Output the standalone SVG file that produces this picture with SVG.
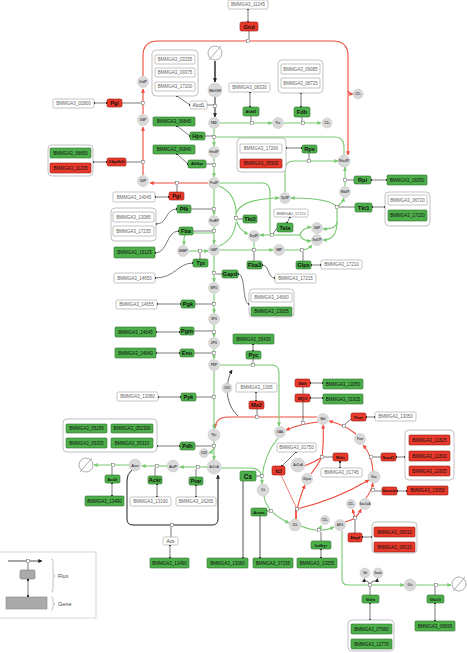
<svg xmlns="http://www.w3.org/2000/svg" width="467" height="653" viewBox="0 0 467 653">
<style>
.gb{fill:#fff;stroke:#9a9a9a;stroke-width:.6}
.gG{fill:#4daf4a;stroke:#2d6e2b;stroke-width:.6}
.gR{fill:#e8392a;stroke:#8e1d12;stroke-width:.6}
.grp{fill:#fff;stroke:#a8a8a8;stroke-width:.7}
text{font-family:"Liberation Sans",Arial,sans-serif}
.gt{font-size:4.5px;fill:#111;text-anchor:middle}
.gtw{font-size:4.5px;fill:#666;text-anchor:middle}
.rt{font-size:5.6px;font-weight:bold;fill:#111;text-anchor:middle}
.rs{font-size:4px;font-weight:bold;fill:#111;text-anchor:middle}
.rtw{font-size:4.8px;fill:#444;text-anchor:middle}
.met{fill:#d9d9d9;stroke:#c4c4c4;stroke-width:.5}
.mt{font-size:2.9px;font-weight:bold;fill:#444;text-anchor:middle}
.mtb{font-size:4px;font-weight:bold;fill:#444;text-anchor:middle}
.fg{fill:none;stroke:#77c96f;stroke-width:1.1}
.fr{fill:none;stroke:#ee4a3a;stroke-width:1.1}
.fk{fill:none;stroke:#222;stroke-width:1}
.cn{fill:none;stroke:#222;stroke-width:.6}
.cg{fill:none;stroke:#555;stroke-width:1}
.mk{fill:#fff;stroke:#555;stroke-width:.45}
.sink{fill:#fff;stroke:#777;stroke-width:.6}
.lg{font-size:5.5px;fill:#444}
</style>
<defs>
<marker id="aG" viewBox="0 0 6 6" refX="5.5" refY="3" markerWidth="4" markerHeight="4" markerUnits="userSpaceOnUse" orient="auto"><path d="M0,0 L6,3 L0,6 z" fill="#77c96f"/></marker>
<marker id="aR" viewBox="0 0 6 6" refX="5.5" refY="3" markerWidth="4" markerHeight="4" markerUnits="userSpaceOnUse" orient="auto"><path d="M0,0 L6,3 L0,6 z" fill="#ee4a3a"/></marker>
<marker id="aK" viewBox="0 0 6 6" refX="5.5" refY="3" markerWidth="4" markerHeight="4" markerUnits="userSpaceOnUse" orient="auto"><path d="M0,0 L6,3 L0,6 z" fill="#222"/></marker>
<marker id="d" viewBox="0 0 4 4" refX="2" refY="2" markerWidth="2.2" markerHeight="2.2" markerUnits="userSpaceOnUse"><circle cx="2" cy="2" r="2" fill="#111"/></marker>
<rect id="m" x="-1.6" y="-1.6" width="3.2" height="3.2" class="mk"/>
</defs>
<rect width="467" height="653" fill="#fff"/>

<g id="connectors">
<!-- red fluxes -->
<path class="fr" d="M143,175 V127" marker-end="url(#aR)"/>
<path class="fr" d="M143,114 V89" marker-end="url(#aR)"/>
<path class="fr" d="M143,76 V56 Q143,41 158,41 H333 Q348,41 348,56 V155" marker-end="url(#aR)"/>
<path class="fr" d="M348,91 Q350,94 353,94" marker-end="url(#aR)"/>
<path class="fr" d="M208,183 H150" marker-end="url(#aR)"/>
<path class="fr" d="M317,417 H228 Q216,417 215,428" marker-end="url(#aR)"/>
<path class="fr" d="M318,422 Q300,424 286,430" marker-end="url(#aR)"/>
<path class="fr" d="M356,434 Q345,425 329,421" marker-end="url(#aR)"/>
<path class="fr" d="M373,471 Q372,455 363,445" marker-end="url(#aR)"/>
<path class="fr" d="M366,498 Q371,492 373,483" marker-end="url(#aR)"/>
<path class="fr" d="M345,522 Q352,520 355,518 Q359,514 361,509" marker-end="url(#aR)"/>
<path class="fr" d="M355,518 L352.5,509.5" marker-end="url(#aR)"/>
<path class="fr" d="M296,519 V509" style="stroke-width:1.8"/>
<path class="fr" d="M297,509 Q301,494 305,485" marker-end="url(#aR)"/>
<path class="fr" d="M297,509 Q335,500 369,480" marker-end="url(#aR)"/>
<path class="fr" d="M281,475 L297,509" style="stroke-width:.7"/>
<path class="fr" d="M304,466 Q315,462 322,457"/>
<path class="fr" d="M311,474 Q318,465 322,457"/>
<path class="fr" d="M322,457 Q324,440 323,425" marker-end="url(#aR)"/>
<!-- green fluxes -->
<path class="fg" d="M220,123 H272" marker-end="url(#aG)"/>
<path class="fg" d="M284,123 H321" marker-end="url(#aG)"/>
<path class="fg" d="M214,129 V146" marker-end="url(#aG)"/>
<path class="fg" d="M344,155 V147 Q344,137 334,137 H216"/>
<path class="fg" d="M214,158 V177" marker-end="url(#aG)"/>
<path class="fg" d="M214,189 V215" marker-end="url(#aG)"/>
<path class="fg" d="M214,227 V244" marker-end="url(#aG)"/>
<path class="fg" d="M213,233 H190 Q184,233 184,239 V245" marker-end="url(#aG)"/>
<path class="fg" d="M189,251 H208" marker-end="url(#aG)"/>
<path class="fg" d="M219,186 Q234,192 236,210 V218 Q238,230 248,234" marker-end="url(#aG)"/>
<path class="fg" d="M219,246 Q234,240 236,222"/>
<path class="fg" d="M236,214 Q240,199 279,198" marker-end="url(#aG)"/>
<path class="fg" d="M220,183 H262 Q270,183 270,192 V233"/>
<path class="fg" d="M272,235 H260" marker-end="url(#aG)"/>
<path class="fg" d="M272,235 H300"/>
<path class="fg" d="M300,235 Q302,228 311,227" marker-end="url(#aG)"/>
<path class="fg" d="M300,235 Q302,241 311,241" marker-end="url(#aG)"/>
<path class="fg" d="M338,206 Q343,202 344,198" marker-end="url(#aG)"/>
<path class="fg" d="M337,207 Q330,198 291,198" marker-end="url(#aG)"/>
<path class="fg" d="M337,209 V222 Q337,229 323,229" marker-end="url(#aG)"/>
<path class="fg" d="M337,222 Q337,240 323,240" marker-end="url(#aG)"/>
<path class="fg" d="M345,186 V167" marker-end="url(#aG)"/>
<path class="fg" d="M285,192 V170 Q285,161 294,161 H338" marker-end="url(#aG)"/>
<path class="fg" d="M220,250 H273" marker-end="url(#aG)"/>
<path class="fg" d="M254,242 V250"/>
<path class="fg" d="M285,250 H301 Q308,250 312,245" marker-end="url(#aG)"/>
<path class="fg" d="M214,256 V282" marker-end="url(#aG)"/>
<path class="fg" d="M214,294 V313" marker-end="url(#aG)"/>
<path class="fg" d="M214,325 V337" marker-end="url(#aG)"/>
<path class="fg" d="M214,349 V359" marker-end="url(#aG)"/>
<path class="fg" d="M214,371 V429" marker-end="url(#aG)"/>
<path class="fg" d="M220,365 H272 Q279,365 279,374 V426" marker-end="url(#aG)"/>
<path class="fg" d="M214,441 V460" marker-end="url(#aG)"/>
<path class="fg" d="M214,448 Q212,452 209,453" marker-end="url(#aG)"/>
<path class="fg" d="M207,467 H180" marker-end="url(#aG)"/>
<path class="fg" d="M167,466 H142" marker-end="url(#aG)"/>
<path class="fg" d="M129,465 H94" marker-end="url(#aG)"/>
<path class="fg" d="M221,468 H250 Q261,468 262,478 V484" marker-end="url(#aG)"/>
<path class="fg" d="M278,438 Q264,455 262,478"/>
<path class="fg" d="M264,496 Q266,512 289,523" marker-end="url(#aG)"/>
<path class="fg" d="M301,526 Q320,534 334,527" marker-end="url(#aG)"/>
<path class="fg" d="M319,530 L321.5,525.5" marker-end="url(#aG)"/>
<path class="fg" d="M342,531 V579 Q342,585 348,585 H404" marker-end="url(#aG)"/>
<path class="fg" d="M416,585 H451" marker-end="url(#aG)"/>
<!-- black fluxes -->
<path class="fk" d="M215,61 V82" style="stroke-width:1.4" marker-end="url(#aK)"/>
<path class="fk" d="M215,97 V117" marker-end="url(#aK)"/>
<path class="fk" d="M132,470 Q127,474 127,480 V519 Q127,525 133,525 H212 Q218,525 218,519 V475" marker-end="url(#aK)"/>
<path class="fk" d="M238,416 C226,405 224,385 232,370" style="stroke-width:.7" marker-end="url(#aK)"/>
<path class="fk" d="M370,584 C368,580 364,582 364.5,578.5" style="stroke-width:.7" marker-end="url(#aK)"/>
<path class="fk" d="M370,584 C372,580 377,582 377.5,578.5" style="stroke-width:.7" marker-end="url(#aK)"/>
<!-- gene/reaction connectors -->
<g class="cn" marker-start="url(#d)" marker-end="url(#d)">
<path d="M248,9 V22"/>
<path d="M94,103 H107"/>
<path d="M93,162 H107"/>
<path d="M155,197 H169"/>
<path d="M177,96 L190,105"/>
<path d="M250,92 V107"/>
<path d="M301,93 V107"/>
<path d="M177,126 L190,136"/>
<path d="M177,154 L188,164"/>
<path d="M286,148 H302"/>
<path d="M371,180 H387"/>
<path d="M372,207 H385"/>
<path d="M156,224 C168,224 165,209 177,209"/>
<path d="M155,253 C168,253 166,231 179,231"/>
<path d="M155,278 C175,278 178,263 193,263"/>
<path d="M290,217 L287,223"/>
<path d="M262,265 C270,265 267,278 275,278"/>
<path d="M311,265 H321"/>
<path d="M238,274 C246,274 242,304 249,304"/>
<path d="M157,304 H181"/>
<path d="M156,332 H180"/>
<path d="M156,353 H180"/>
<path d="M253,344 V351"/>
<path d="M158,397 H181"/>
<path d="M256,392 V401"/>
<path d="M157,446 H180"/>
<path d="M310,383 H323"/>
<path d="M310,398 H323"/>
<path d="M366,417 H375"/>
<path d="M396,457 H405"/>
<path d="M397,491 H407"/>
<path d="M362,537 H372"/>
<path d="M340,462 V468"/>
<path d="M296,452 L282,466"/>
<path d="M321,549 V558"/>
<path d="M370,603 V620"/>
<path d="M435,603 V621"/>
<path d="M196,485 V497"/>
<path d="M157,484 V497"/>
<path d="M112,483 V496"/>
<path d="M170,545 V558"/>
</g>
<g class="cn">
<path d="M249,31 V39"/>
<path d="M122,103 H141"/>
<path d="M126,162 H141"/>
<path d="M177,192 V185"/>
<path d="M207,105 H213"/>
<path d="M251,116 V121"/>
<path d="M302,117 V121"/>
<path d="M205,136 H212"/>
<path d="M206,164 H212"/>
<path d="M309,153 V159"/>
<path d="M354,180 H347"/>
<path d="M355,207 H339"/>
<path d="M191,209 H212"/>
<path d="M193,231 H212"/>
<path d="M200,259 V253"/>
<path d="M277,228 L273,234"/>
<path d="M243,219 H238"/>
<path d="M254,261 V252"/>
<path d="M303,261 V252"/>
<path d="M222,274 H216"/>
<path d="M195,304 H212"/>
<path d="M194,331 H212"/>
<path d="M194,353 H212"/>
<path d="M253,359 V363"/>
<path d="M196,397 H212"/>
<path d="M257,409 V415"/>
<path d="M195,446 H212"/>
<path d="M303,387 V394 M303,402 V421"/>
<path d="M351,419 L345,424"/>
<path d="M381,457 H373"/>
<path d="M382,491 H374"/>
<path d="M355,533 V520"/>
<path d="M333,457 H324"/>
<path d="M321,541 V532"/>
<path d="M267,511 H270"/>
<path d="M255,476 H260"/>
<path d="M370,595 V587"/>
<path d="M435,595 V587"/>
<path d="M196,477 V469"/>
<path d="M155,476 V468"/>
<path d="M112,475 V467"/>
<path d="M171,537 V527"/>
</g>
<path class="cg" d="M243,481 V558" marker-end="url(#d)"/>
<path class="cg" d="M260,516 V558" marker-end="url(#d)"/>
<!-- flux markers -->
<use href="#m" x="248" y="41"/><use href="#m" x="143" y="103"/><use href="#m" x="143" y="162"/><use href="#m" x="177" y="183"/>
<use href="#m" x="215" y="106"/><use href="#m" x="252" y="123"/><use href="#m" x="303" y="123"/><use href="#m" x="214" y="137"/>
<use href="#m" x="214" y="165"/><use href="#m" x="309" y="161"/><use href="#m" x="345" y="180"/><use href="#m" x="337" y="207"/>
<use href="#m" x="214" y="209"/><use href="#m" x="214" y="231"/><use href="#m" x="200" y="251"/><use href="#m" x="236" y="218"/>
<use href="#m" x="272" y="235"/><use href="#m" x="254" y="250"/><use href="#m" x="302" y="250"/><use href="#m" x="214" y="273"/>
<use href="#m" x="214" y="304"/><use href="#m" x="214" y="332"/><use href="#m" x="214" y="353"/><use href="#m" x="253" y="365"/>
<use href="#m" x="214" y="397"/><use href="#m" x="257" y="417"/><use href="#m" x="214" y="446"/><use href="#m" x="198" y="467"/>
<use href="#m" x="157" y="466"/><use href="#m" x="113" y="465"/><use href="#m" x="172" y="525"/><use href="#m" x="262" y="476"/>
<use href="#m" x="271" y="511"/><use href="#m" x="319" y="530"/><use href="#m" x="303" y="423"/><use href="#m" x="344" y="426"/>
<use href="#m" x="371" y="457"/><use href="#m" x="373" y="490"/><use href="#m" x="355" y="518"/><use href="#m" x="297" y="509"/>
<use href="#m" x="322" y="457"/><use href="#m" x="370" y="585"/><use href="#m" x="436" y="585"/>
</g>

<g id="metabolites">
<g id="m-gn6p"><circle class="met" cx="143" cy="82" r="5.5"/><text class="mt" x="143" y="83">Gn6P</text></g>
<g id="m-gl6p"><circle class="met" cx="143" cy="120" r="5.5"/><text class="mt" x="143" y="121">Gl6P</text></g>
<g id="m-g6p"><circle class="met" cx="143" cy="181" r="5.5"/><text class="mt" x="143" y="182">G6P</text></g>
<g id="m-f6p"><circle class="met" cx="214" cy="183" r="5.5"/><text class="mt" x="214" y="184">Fru6P</text></g>
<g id="m-hex6p"><circle class="met" cx="214" cy="152" r="5.5"/><text class="mt" x="214" y="153">Hex6P</text></g>
<g id="m-fad"><circle class="met" cx="214" cy="123" r="5.5"/><text class="mt" x="214" y="124">FAD</text></g>
<g id="m-meoh"><circle class="met" cx="215" cy="90" r="7"/><text class="mtb" x="215" y="91.5">MeOH</text></g>
<g id="m-for"><circle class="met" cx="278" cy="123" r="5.5"/><text class="mt" x="278" y="124">For</text></g>
<g id="m-co2a"><circle class="met" cx="327" cy="123" r="5"/><text class="mt" x="327" y="124">CO₂</text></g>
<g id="m-co2b"><circle class="met" cx="358" cy="94" r="5"/><text class="mt" x="358" y="95">CO₂</text></g>
<g id="m-ru5p"><circle class="met" cx="344" cy="161" r="6"/><text class="mt" x="344" y="162">Ribu5P</text></g>
<g id="m-rib5p"><circle class="met" cx="345" cy="192" r="5.5"/><text class="mt" x="345" y="193">Rib5P</text></g>
<g id="m-xyl5p"><circle class="met" cx="285" cy="198" r="5.5"/><text class="mt" x="285" y="199">Xyl5P</text></g>
<g id="m-fbp"><circle class="met" cx="214" cy="221" r="5.5"/><text class="mt" x="214" y="222">FruBP</text></g>
<g id="m-dhap"><circle class="met" cx="183" cy="251" r="5.5"/><text class="mt" x="183" y="252">DHAP</text></g>
<g id="m-gap"><circle class="met" cx="214" cy="250" r="5.5"/><text class="mt" x="214" y="251">GAP</text></g>
<g id="m-e4p"><circle class="met" cx="254" cy="236" r="5.5"/><text class="mt" x="254" y="237">Ery4P</text></g>
<g id="m-sbp"><circle class="met" cx="279" cy="250" r="5.5"/><text class="mt" x="279" y="251">SBP</text></g>
<g id="m-gap2"><circle class="met" cx="317" cy="228" r="5.5"/><text class="mt" x="317" y="229">GAP</text></g>
<g id="m-s7p"><circle class="met" cx="317" cy="240" r="5.5"/><text class="mt" x="317" y="241">Sed7P</text></g>
<g id="m-bpg"><circle class="met" cx="214" cy="288" r="5.5"/><text class="mt" x="214" y="289">BPG</text></g>
<g id="m-3pg"><circle class="met" cx="214" cy="319" r="5.5"/><text class="mt" x="214" y="320">3PG</text></g>
<g id="m-2pg"><circle class="met" cx="214" cy="343" r="5.5"/><text class="mt" x="214" y="344">2PG</text></g>
<g id="m-pep"><circle class="met" cx="214" cy="365" r="5.5"/><text class="mt" x="214" y="366">PEP</text></g>
<g id="m-co2c"><circle class="met" cx="227" cy="388" r="5"/><text class="mt" x="227" y="389">CO2</text></g>
<g id="m-pyr"><circle class="met" cx="214" cy="435" r="6"/><text class="mt" x="214" y="436">Pyr</text></g>
<g id="m-co2d"><circle class="met" cx="204" cy="453" r="4.5"/><text class="mt" x="204" y="454">CO2</text></g>
<g id="m-accoa"><circle class="met" cx="214" cy="467" r="7"/><text class="mt" x="214" y="468">AcCoA</text></g>
<g id="m-acp"><circle class="met" cx="173" cy="466" r="6"/><text class="mtb" x="173" y="467.5">AcP</text></g>
<g id="m-ace"><circle class="met" cx="135" cy="465" r="6"/><text class="mtb" x="135" y="466.5">Ace</text></g>
<g id="m-oaa"><circle class="met" cx="280" cy="432" r="5.5"/><text class="mt" x="280" y="433">OAA</text></g>
<g id="m-mal"><circle class="met" cx="323" cy="419" r="5.5"/><text class="mt" x="323" y="420">Mal</text></g>
<g id="m-fum"><circle class="met" cx="360" cy="439" r="5.5"/><text class="mt" x="360" y="440">Fum</text></g>
<g id="m-suc"><circle class="met" cx="374" cy="477" r="6"/><text class="mt" x="374" y="478">Suc</text></g>
<g id="m-succoa"><circle class="met" cx="365" cy="504" r="5.5"/><text class="mt" x="365" y="505">SucCoA</text></g>
<g id="m-co2e"><circle class="met" cx="351" cy="504" r="4.5"/><text class="mt" x="351" y="505">CO₂</text></g>
<g id="m-akg"><circle class="met" cx="340" cy="525" r="5.5"/><text class="mt" x="340" y="526">AKG</text></g>
<g id="m-co2f"><circle class="met" cx="325" cy="520" r="4.5"/><text class="mt" x="325" y="521">CO₂</text></g>
<g id="m-icit"><circle class="met" cx="295" cy="525" r="6"/><text class="mt" x="295" y="526">ICit</text></g>
<g id="m-cit"><circle class="met" cx="263" cy="490" r="6"/><text class="mt" x="263" y="491">Cit</text></g>
<g id="m-accoa2"><circle class="met" cx="298" cy="465" r="7"/><text class="mt" x="298" y="466">AcCoA</text></g>
<g id="m-glyox"><circle class="met" cx="307" cy="479" r="5.5"/><text class="mt" x="307" y="480">Glyox</text></g>
<g id="m-val"><circle class="met" cx="365" cy="573" r="5"/><text class="mt" x="365" y="574">Val</text></g>
<g id="m-3mob"><circle class="met" cx="378" cy="573" r="5"/><text class="mt" x="378" y="574">3mob</text></g>
<g id="m-glu"><circle class="met" cx="410" cy="585" r="6"/><text class="mt" x="410" y="586">Glu</text></g>
<g id="sink-meoh"><circle class="sink" cx="215" cy="53" r="7"/><path d="M209,60 L221,46" stroke="#777" stroke-width=".6"/></g>
<g id="sink-ace"><circle class="sink" cx="86" cy="465" r="7"/><path d="M80,472 L92,458" stroke="#777" stroke-width=".6"/></g>
<g id="sink-glu"><circle class="sink" cx="459" cy="584" r="7"/><path d="M453,591 L465,577" stroke="#777" stroke-width=".6"/></g>
</g>

<g id="reactions">
<g id="r-gnd"><rect class="gR" x="240" y="22" width="18" height="9" rx="1.5"/><text class="rt" x="249" y="28.5">Gnd</text></g>
<g id="r-pgl"><rect class="gR" x="107" y="99" width="15" height="8" rx="1.5"/><text class="rt" x="114.5" y="105">Pgl</text></g>
<g id="r-g6pdh2r"><rect class="gR" x="107" y="158" width="19" height="8" rx="1.5"/><text class="rs" x="116.5" y="163.4">G6pdh2r</text></g>
<g id="r-pgi"><rect class="gR" x="169" y="192" width="15" height="8" rx="1.5"/><text class="rt" x="176.5" y="198">Pgi</text></g>
<g id="r-alcd1"><rect class="gb" x="190" y="101" width="17" height="8" rx="1.5"/><text class="rtw" x="198.5" y="106.6">Alcd1</text></g>
<g id="r-aldd1"><rect class="gG" x="243" y="107" width="16" height="9" rx="1.5"/><text class="rs" x="251" y="113">Aldd1</text></g>
<g id="r-fdh"><rect class="gG" x="294" y="107" width="16" height="10" rx="1.5"/><text class="rt" x="302" y="114">Fdh</text></g>
<g id="r-hps"><rect class="gG" x="190" y="132" width="15" height="8" rx="1.5"/><text class="rt" x="197.5" y="138">Hps</text></g>
<g id="r-ahl6pi"><rect class="gG" x="188" y="160" width="18" height="8" rx="1.5"/><text class="rs" x="197" y="165.4">Ahl6pi</text></g>
<g id="r-rpe"><rect class="gG" x="302" y="145" width="15" height="8" rx="1.5"/><text class="rt" x="309.5" y="151">Rpe</text></g>
<g id="r-rpi"><rect class="gG" x="354" y="176" width="17" height="8" rx="1.5"/><text class="rt" x="362.5" y="182">Rpi</text></g>
<g id="r-tkt1"><rect class="gG" x="355" y="203" width="17" height="9" rx="1.5"/><text class="rt" x="363.5" y="209.5">Tkt1</text></g>
<g id="r-pfk"><rect class="gG" x="177" y="205" width="14" height="8" rx="1.5"/><text class="rt" x="184" y="211">Pfk</text></g>
<g id="r-fba"><rect class="gG" x="179" y="227" width="14" height="8" rx="1.5"/><text class="rt" x="186" y="233">Fba</text></g>
<g id="r-tkt2"><rect class="gG" x="243" y="215" width="14" height="8" rx="1.5"/><text class="rt" x="250" y="221">Tkt2</text></g>
<g id="r-tala"><rect class="gG" x="277" y="223" width="16" height="9" rx="1.5"/><text class="rt" x="285" y="229.5">Tala</text></g>
<g id="r-tpi"><rect class="gG" x="193" y="259" width="15" height="8" rx="1.5"/><text class="rt" x="200.5" y="265">Tpi</text></g>
<g id="r-fba3"><rect class="gG" x="247" y="261" width="15" height="8" rx="1.5"/><text class="rt" x="254.5" y="267">Fba3</text></g>
<g id="r-glpx"><rect class="gG" x="296" y="261" width="15" height="8" rx="1.5"/><text class="rt" x="303.5" y="267">Glpx</text></g>
<g id="r-gapd"><rect class="gG" x="222" y="270" width="16" height="8" rx="1.5"/><text class="rt" x="230" y="276">Gapd</text></g>
<g id="r-pgk"><rect class="gG" x="181" y="300" width="14" height="8" rx="1.5"/><text class="rt" x="188" y="306">Pgk</text></g>
<g id="r-pgm"><rect class="gG" x="180" y="327" width="14" height="8" rx="1.5"/><text class="rt" x="187" y="333">Pgm</text></g>
<g id="r-eno"><rect class="gG" x="180" y="349" width="14" height="8" rx="1.5"/><text class="rt" x="187" y="355">Eno</text></g>
<g id="r-pyc"><rect class="gG" x="246" y="351" width="15" height="8" rx="1.5"/><text class="rt" x="253.5" y="357">Pyc</text></g>
<g id="r-pyk"><rect class="gG" x="181" y="393" width="15" height="8" rx="1.5"/><text class="rt" x="188.5" y="399">Pyk</text></g>
<g id="r-me2"><rect class="gR" x="249" y="401" width="15" height="8" rx="1.5"/><text class="rt" x="256.5" y="407">Me2</text></g>
<g id="r-pdh"><rect class="gG" x="180" y="442" width="15" height="8" rx="1.5"/><text class="rt" x="187.5" y="448">Pdh</text></g>
<g id="r-mdh"><rect class="gR" x="295" y="379" width="15" height="8" rx="1.5"/><text class="rs" x="302.5" y="384.5">Mdh</text></g>
<g id="r-mqo"><rect class="gR" x="295" y="394" width="15" height="8" rx="1.5"/><text class="rs" x="302.5" y="399.5">MQO</text></g>
<g id="r-fum"><rect class="gR" x="351" y="413" width="15" height="8" rx="1.5"/><text class="rs" x="358.5" y="418.5">Fum</text></g>
<g id="r-sucd1"><rect class="gR" x="381" y="453" width="15" height="8" rx="1.5"/><text class="rs" x="388.5" y="458.5">Sucd1</text></g>
<g id="r-succoas"><rect class="gR" x="382" y="487" width="15" height="8" rx="1.5"/><text class="rs" x="389.5" y="492.4" style="font-size:3.4px">Succoas</text></g>
<g id="r-mals"><rect class="gR" x="333" y="453" width="15" height="8" rx="1.5"/><text class="rs" x="340.5" y="458.5">Mals</text></g>
<g id="r-icl"><rect class="gR" x="272" y="466" width="13" height="9" rx="1.5"/><text class="rt" x="278.5" y="472.5">Icl</text></g>
<g id="r-cs"><rect class="gG" x="240" y="471" width="16" height="10" rx="1.5"/><text class="rt" x="248" y="478.5" style="font-size:6.5px">Cs</text></g>
<g id="r-acont"><rect class="gG" x="251" y="508" width="16" height="8" rx="1.5"/><text class="rs" x="259" y="513.5">Acont</text></g>
<g id="r-icdhyr"><rect class="gG" x="311" y="541" width="20" height="8" rx="1.5"/><text class="rs" x="321" y="546.5">Icdhyr</text></g>
<g id="r-akgd"><rect class="gR" x="348" y="533" width="14" height="9" rx="1.5"/><text class="rs" x="355" y="539">Akgd</text></g>
<g id="r-valta"><rect class="gG" x="362" y="595" width="17" height="8" rx="1.5"/><text class="rs" x="370.5" y="600.5">Valta</text></g>
<g id="r-gluor"><rect class="gG" x="427" y="595" width="17" height="8" rx="1.5"/><text class="rs" x="435.5" y="600.5">GluOr</text></g>
<g id="r-ptar"><rect class="gG" x="189" y="477" width="14" height="8" rx="1.5"/><text class="rt" x="196" y="483">Ptar</text></g>
<g id="r-ackr"><rect class="gG" x="148" y="476" width="14" height="8" rx="1.5"/><text class="rt" x="155" y="482">Ackr</text></g>
<g id="r-act2r"><rect class="gG" x="105" y="475" width="15" height="8" rx="1.5"/><text class="rs" x="112.5" y="480.5">Act2r</text></g>
<g id="r-acs"><rect class="gb" x="163" y="537" width="15" height="8" rx="1.5"/><text class="rtw" x="170.5" y="542.6">Acs</text></g>
</g>

<g id="genes">
<g id="g-11245"><rect class="gb" x="228" y="0" width="40" height="9" rx="1.5"/><text class="gtw" x="248" y="6">BMMGA3_11245</text></g>
<g id="g-02800"><rect class="gb" x="53" y="99" width="41" height="9" rx="1.5"/><text class="gtw" x="73.5" y="105">BMMGA3_02800</text></g>
<g id="g-zwf"><rect class="grp" x="48" y="145" width="45" height="31" rx="4"/>
<rect class="gG" x="50" y="148" width="41" height="10" rx="1"/><text class="gt" x="70.5" y="154.5">BMMGA3_06850</text>
<rect class="gR" x="50" y="163" width="41" height="10" rx="1"/><text class="gt" x="70.5" y="169.5">BMMGA3_11235</text></g>
<g id="g-14045"><rect class="gb" x="113" y="192" width="42" height="10" rx="1.5"/><text class="gtw" x="134" y="198.5">BMMGA3_14045</text></g>
<g id="g-alcd"><rect class="grp" x="152" y="50" width="46" height="46" rx="4"/>
<rect class="gb" x="155" y="55" width="40" height="9" rx="1"/><text class="gtw" x="175" y="61">BMMGA3_03335</text>
<rect class="gb" x="155" y="68" width="40" height="9" rx="1"/><text class="gtw" x="175" y="74">BMMGA3_09375</text>
<rect class="gb" x="155" y="82" width="40" height="9" rx="1"/><text class="gtw" x="175" y="88">BMMGA3_17200</text></g>
<g id="g-08330"><rect class="gb" x="229" y="83" width="41" height="9" rx="1.5"/><text class="gtw" x="249.5" y="89">BMMGA3_08330</text></g>
<g id="g-fdh"><rect class="grp" x="278" y="60" width="45" height="33" rx="4"/>
<rect class="gb" x="281" y="64" width="39" height="10" rx="1"/><text class="gtw" x="300.5" y="70.5">BMMGA3_09085</text>
<rect class="gb" x="281" y="78" width="39" height="10" rx="1"/><text class="gtw" x="300.5" y="84.5">BMMGA3_08725</text></g>
<g id="g-06845"><rect class="gG" x="153" y="117" width="42" height="9" rx="1"/><text class="gt" x="174" y="123">BMMGA3_06845</text></g>
<g id="g-06840"><rect class="gG" x="153" y="145" width="42" height="9" rx="1"/><text class="gt" x="174" y="151">BMMGA3_06840</text></g>
<g id="g-rpe"><rect class="grp" x="237" y="138" width="49" height="34" rx="4"/>
<rect class="gb" x="240" y="144" width="42" height="9" rx="1"/><text class="gtw" x="261" y="150">BMMGA3_17260</text>
<rect class="gR" x="240" y="159" width="42" height="9" rx="1"/><text class="gt" x="261" y="165">BMMGA3_05905</text></g>
<g id="g-16050"><rect class="gG" x="387" y="175" width="40" height="10" rx="1"/><text class="gt" x="407" y="181.5">BMMGA3_16050</text></g>
<g id="g-tkt1"><rect class="grp" x="385" y="192" width="45" height="34" rx="4"/>
<rect class="gb" x="388" y="195" width="39" height="10" rx="1"/><text class="gtw" x="407.5" y="201.5">BMMGA3_06720</text>
<rect class="gG" x="388" y="210" width="39" height="11" rx="1"/><text class="gt" x="407.5" y="217">BMMGA3_17220</text></g>
<g id="g-pfk"><rect class="grp" x="111" y="208" width="45" height="33" rx="4"/>
<rect class="gb" x="113" y="212" width="41" height="10" rx="1"/><text class="gtw" x="133.5" y="218.5">BMMGA3_13085</text>
<rect class="gb" x="113" y="226" width="41" height="10" rx="1"/><text class="gtw" x="133.5" y="232.5">BMMGA3_17235</text></g>
<g id="g-16125"><rect class="gG" x="114" y="247" width="41" height="11" rx="1"/><text class="gt" x="134.5" y="254">BMMGA3_16125</text></g>
<g id="g-17210a"><rect class="gb" x="274" y="209" width="34" height="8" rx="1.5"/><text class="gtw" x="291" y="214.5" style="font-size:3.8px">BMMGA3_17210</text></g>
<g id="g-14650"><rect class="gb" x="114" y="273" width="41" height="10" rx="1.5"/><text class="gtw" x="134.5" y="279.5">BMMGA3_14650</text></g>
<g id="g-17215"><rect class="gb" x="275" y="274" width="41" height="9" rx="1.5"/><text class="gtw" x="295.5" y="280">BMMGA3_17215</text></g>
<g id="g-17210"><rect class="gb" x="321" y="260" width="41" height="9" rx="1.5"/><text class="gtw" x="341.5" y="266">BMMGA3_17210</text></g>
<g id="g-gapd"><rect class="grp" x="249" y="289" width="45" height="28" rx="4"/>
<rect class="gb" x="251" y="293" width="41" height="9" rx="1"/><text class="gtw" x="271.5" y="299">BMMGA3_14660</text>
<rect class="gG" x="251" y="307" width="41" height="9" rx="1"/><text class="gt" x="271.5" y="313">BMMGA3_13005</text></g>
<g id="g-14655"><rect class="gb" x="116" y="300" width="41" height="9" rx="1.5"/><text class="gtw" x="136.5" y="306">BMMGA3_14655</text></g>
<g id="g-14645"><rect class="gG" x="115" y="327" width="41" height="10" rx="1"/><text class="gt" x="135.5" y="333.5">BMMGA3_14645</text></g>
<g id="g-14640"><rect class="gG" x="115" y="348" width="41" height="10" rx="1"/><text class="gt" x="135.5" y="354.5">BMMGA3_14640</text></g>
<g id="g-05430"><rect class="gG" x="233" y="334" width="41" height="10" rx="1"/><text class="gt" x="253.5" y="340.5">BMMGA3_05430</text></g>
<g id="g-13080"><rect class="gb" x="117" y="392" width="41" height="9" rx="1.5"/><text class="gtw" x="137.5" y="398">BMMGA3_13080</text></g>
<g id="g-1305"><rect class="gb" x="236" y="383" width="41" height="9" rx="1.5"/><text class="gtw" x="256.5" y="389">BMMGA3_1305</text></g>
<g id="g-pdh"><rect class="grp" x="63" y="419" width="94" height="33" rx="4"/>
<rect class="gG" x="66" y="424" width="41" height="9" rx="1"/><text class="gt" x="86.5" y="430">BMMGA3_05295</text>
<rect class="gG" x="111" y="424" width="42" height="9" rx="1"/><text class="gt" x="132" y="430">BMMGA3_052300</text>
<rect class="gG" x="66" y="438" width="41" height="10" rx="1"/><text class="gt" x="86.5" y="444.5">BMMGA3_05305</text>
<rect class="gG" x="111" y="438" width="42" height="10" rx="1"/><text class="gt" x="132" y="444.5">BMMGA3_05310</text></g>
<g id="g-13050a"><rect class="gG" x="323" y="379" width="40" height="10" rx="1"/><text class="gt" x="343" y="385.5">BMMGA3_13050</text></g>
<g id="g-01925"><rect class="gG" x="323" y="394" width="40" height="10" rx="1"/><text class="gt" x="343" y="400.5">BMMGA3_01925</text></g>
<g id="g-13050b"><rect class="gb" x="375" y="412" width="41" height="9" rx="1.5"/><text class="gtw" x="395.5" y="418">BMMGA3_13050</text></g>
<g id="g-sucd"><rect class="grp" x="405" y="430" width="49" height="50" rx="4"/>
<rect class="gR" x="409" y="435" width="41" height="10" rx="1"/><text class="gt" x="429.5" y="441.5">BMMGA3_12825</text>
<rect class="gR" x="409" y="451" width="41" height="10" rx="1"/><text class="gt" x="429.5" y="457.5">BMMGA3_12830</text>
<rect class="gR" x="409" y="466" width="41" height="10" rx="1"/><text class="gt" x="429.5" y="472.5">BMMGA3_12835</text></g>
<g id="g-13050c"><rect class="gR" x="407" y="486" width="41" height="9" rx="1"/><text class="gt" x="427.5" y="492">BMMGA3_13050</text></g>
<g id="g-01750"><rect class="gb" x="277" y="443" width="39" height="9" rx="1.5"/><text class="gtw" x="296.5" y="449">BMMGA3_01750</text></g>
<g id="g-01745"><rect class="gb" x="321" y="468" width="41" height="9" rx="1.5"/><text class="gtw" x="341.5" y="474">BMMGA3_01745</text></g>
<g id="g-akgd"><rect class="grp" x="372" y="522" width="45" height="31" rx="4"/>
<rect class="gR" x="374" y="527" width="41" height="10" rx="1"/><text class="gt" x="394.5" y="533.5">BMMGA3_06510</text>
<rect class="gR" x="374" y="542" width="41" height="10" rx="1"/><text class="gt" x="394.5" y="548.5">BMMGA3_06515</text></g>
<g id="g-13055"><rect class="gG" x="297" y="558" width="40" height="10" rx="1"/><text class="gt" x="317" y="564.5">BMMGA3_13055</text></g>
<g id="g-07255"><rect class="gG" x="253" y="558" width="40" height="10" rx="1"/><text class="gt" x="273" y="564.5">BMMGA3_07255</text></g>
<g id="g-13060"><rect class="gG" x="207" y="558" width="41" height="10" rx="1"/><text class="gt" x="227.5" y="564.5">BMMGA3_13060</text></g>
<g id="g-13490a"><rect class="gG" x="150" y="558" width="39" height="10" rx="1"/><text class="gt" x="169.5" y="564.5">BMMGA3_13490</text></g>
<g id="g-13490b"><rect class="gG" x="85" y="496" width="39" height="10" rx="1"/><text class="gt" x="104.5" y="502.5">BMMGA3_13490</text></g>
<g id="g-13190"><rect class="gb" x="130" y="497" width="41" height="9" rx="1.5"/><text class="gtw" x="150.5" y="503">BMMGA3_13190</text></g>
<g id="g-16265"><rect class="gb" x="176" y="497" width="40" height="9" rx="1.5"/><text class="gtw" x="196" y="503">BMMGA3_16265</text></g>
<g id="g-valta"><rect class="grp" x="348" y="620" width="46" height="31" rx="4"/>
<rect class="gG" x="351" y="624" width="41" height="10" rx="1"/><text class="gt" x="371.5" y="630.5">BMMGA3_07960</text>
<rect class="gG" x="351" y="639" width="41" height="10" rx="1"/><text class="gt" x="371.5" y="645.5">BMMGA3_12770</text></g>
<g id="g-08695"><rect class="gG" x="415" y="621" width="40" height="10" rx="1"/><text class="gt" x="435" y="627.5">BMMGA3_08695</text></g>
</g>

<g id="legend">
<rect x="-1" y="552" width="97" height="66" fill="#fff" stroke="#bbb" stroke-width=".6"/>
<path d="M8,561 H42" stroke="#222" stroke-width=".8" fill="none" marker-end="url(#aK)"/>
<use href="#m" x="28" y="561"/>
<path d="M28,563 V570" stroke="#222" stroke-width=".6"/>
<rect x="20" y="570" width="15" height="9" rx="1.5" fill="#aaa" stroke="#777" stroke-width=".6"/>
<path d="M28,580 V596" stroke="#222" stroke-width=".6" marker-start="url(#d)" marker-end="url(#d)"/>
<rect x="6" y="597" width="41" height="12" fill="#aaa" stroke="#888" stroke-width=".6"/>
<path d="M51,559 Q53,559 53,561 V574 Q53,576 55,576 Q53,576 53,578 V590 Q53,592 51,592" fill="none" stroke="#999" stroke-width=".6"/>
<path d="M51,597 Q53,597 53,599 V602 Q53,604 55,604 Q53,604 53,606 V608 Q53,610 51,610" fill="none" stroke="#999" stroke-width=".6"/>
<text class="lg" x="58" y="578">Flux</text>
<text class="lg" x="58" y="605.5">Gene</text>
</g>
</svg>
